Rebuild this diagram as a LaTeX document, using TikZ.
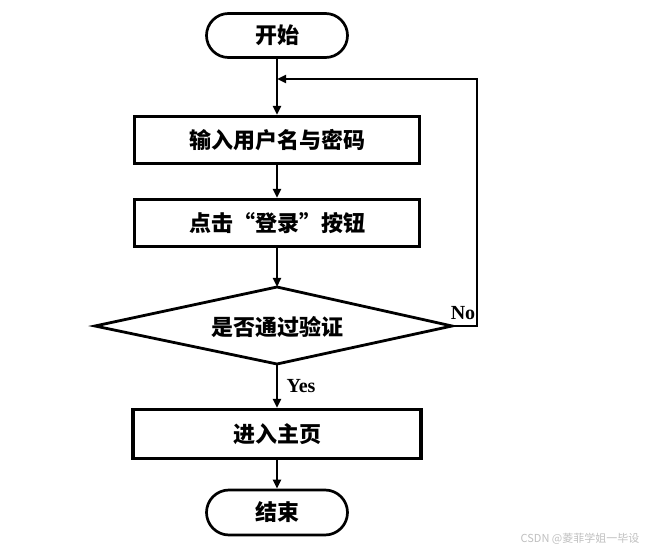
\documentclass[tikz,border=0pt]{standalone}
\usepackage{fontspec}
\setmainfont{Liberation Serif}
\newfontfamily\cjk{Noto Sans CJK SC}
\usetikzlibrary{arrows.meta,shapes.misc}
\begin{document}
\begin{tikzpicture}[x=1pt,y=-1pt,
  every node/.style={inner sep=0pt},
  cjkfont/.style={font=\cjk\bfseries\fontsize{22}{22}\selectfont},
  arr/.style={line width=2.7pt,-{Triangle[length=9pt,width=8pt]}},
  term/.style={rounded rectangle,draw,line width=2.7pt,minimum width=141pt,minimum height=44pt,cjkfont},
  proc/.style={rectangle,draw,line width=3.2pt,minimum width=285pt,minimum height=47pt,cjkfont},
  lbl/.style={font=\bfseries\fontsize{20}{20}\selectfont},
]
\useasboundingbox (0,0) rectangle (661,553);
\node[term] (start) at (277,35.5) {开始};
\node[proc] (in) at (277,140) {输入用户名与密码};
\node[proc] (click) at (277,223) {点击“登录”按钮};
\coordinate (dt) at (277,287);
\coordinate (dr) at (452,326);
\coordinate (db) at (277,364);
\coordinate (dl) at (95,326);
\draw[line width=2.8pt,line join=miter] (dt) -- (dr) -- (db) -- (dl) -- cycle;
\node[cjkfont] (dec) at (277,327) {是否通过验证};
\node[proc,minimum width=288pt,minimum height=49pt] (home) at (277,434) {进入主页};
\node[term,minimum height=45pt] (end) at (277,512.5) {结束};
\coordinate (lr) at (477,326);
\coordinate (lt) at (477,79);
\coordinate (lj) at (277,79);
\draw[arr] (start.south) -- (in.north);
\draw[arr] (in.south) -- (click.north);
\draw[arr] (click.south) -- (dt);
\draw[arr] (db) -- (home.north);
\draw[arr] (home.south) -- (end.north);
\draw[arr] (dr) -- (lr) -- (lt) -- (lj);
\node[lbl] (yes) at (301,386) {Yes};
\node[lbl] (no) at (463,313) {No};
\node[font=\cjk\fontsize{11}{11}\selectfont,text=black!25] (wm) at (580,539) {CSDN @菱菲学姐一毕设};
\end{tikzpicture}
\end{document}
